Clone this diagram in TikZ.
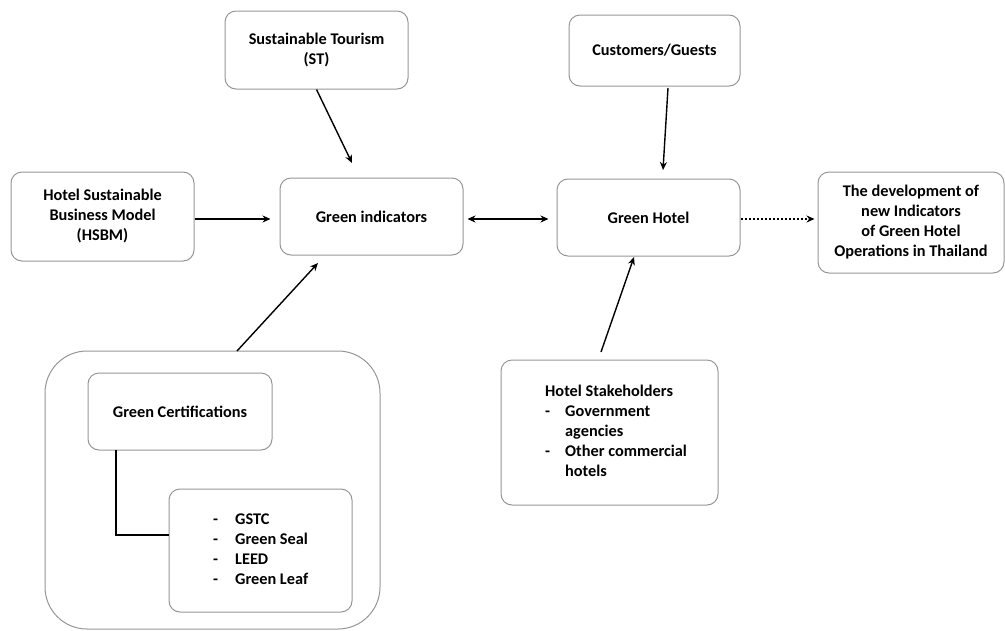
\documentclass[tikz,border=0pt]{standalone}
\usepackage{fontspec}
\setmainfont{Carlito}
\usetikzlibrary{arrows.meta}
\definecolor{boxgray}{RGB}{150,150,150}
\begin{document}
\begin{tikzpicture}[x=1pt,y=-1pt,
  font=\fontsize{16.3}{20}\selectfont\bfseries,
  box/.style={draw=boxgray,line width=1pt,rounded corners=11pt,align=center,inner sep=0pt},
  arr/.style={line width=1.4pt,-{Stealth[length=8pt,width=7pt]}},
  darr/.style={line width=1.4pt,{Stealth[length=8pt,width=7pt]}-{Stealth[length=8pt,width=7pt]}},
  dotarr/.style={line width=1.3pt,dash pattern=on 2.2pt off 1.8pt,-{Stealth[length=8pt,width=7pt]}},
  conn/.style={line width=1.4pt}]
\useasboundingbox (0,0) rectangle (1005,630);
% outer container
\node[box,rounded corners=42pt,minimum width=335pt,minimum height=278pt] (outer) at (212.5,490) {};
% boxes
\node[box,minimum width=183pt,minimum height=78pt] (st) at (316.5,50) {Sustainable Tourism\\(ST)};
\node[box,minimum width=183pt,minimum height=89pt] (hsbm) at (102.5,216.5) {Hotel Sustainable\\Business Model\\(HSBM)};
\node[box,minimum width=183pt,minimum height=77pt] (gi) at (371.5,216.5) {Green indicators};
\node[box,minimum width=171pt,minimum height=71pt] (cg) at (654.5,50.5) {Customers/Guests};
\node[box,minimum width=183pt,minimum height=77pt] (gh) at (648.5,217.5) {Green Hotel};
\node[box,minimum width=186pt,minimum height=101pt] (dev) at (911,222.5) {The development of\\new Indicators\\of Green Hotel\\Operations in Thailand};
\node[box,minimum width=184pt,minimum height=77pt] (gc) at (180,411.5) {Green Certifications};
\node[box,minimum width=183pt,minimum height=123pt] (list) at (260.5,550.5) {};
\node[anchor=west,inner sep=0pt,align=left] (listtext) at (213,550.5) {\begin{tabular}{@{}l@{\hspace{17pt}}l@{}}-&GSTC\\-&Green Seal\\-&LEED\\-&Green Leaf\end{tabular}};
\node[box,minimum width=217pt,minimum height=145pt] (hs) at (609.5,432.5) {};
\node[anchor=west,inner sep=0pt,align=left] (hstext) at (545,432.5) {\begin{tabular}{@{}l@{\hspace{15pt}}l@{}}\multicolumn{2}{@{}l@{}}{Hotel Stakeholders}\\-&Government\\&agencies\\-&Other commercial\\&hotels\end{tabular}};
% connector end points
\coordinate (stend) at (352,163);
\coordinate (cgstart) at (668,88);
\coordinate (cgend) at (663,170);
\coordinate (outstart) at (237,351);
\coordinate (outend) at (318,263);
\coordinate (hsstart) at (601,352);
\coordinate (hsend) at (634,257);
\coordinate (gcstart) at (116,450);
\coordinate (listjoin) at (169,535);
% connectors
\draw[arr] (st.south) -- (stend);
\draw[arr,shorten >=9pt] ([yshift=-2.5pt]hsbm.east) -- ([yshift=-2.5pt]gi.west);
\draw[darr,shorten <=4pt,shorten >=8pt] ([yshift=-2.5pt]gi.east) -- ([yshift=-1.5pt]gh.west);
\draw[arr] (cgstart) -- (cgend);
\draw[dotarr,shorten >=3pt] ([yshift=-1.5pt]gh.east) -- ([yshift=3.5pt]dev.west);
\draw[arr] (outstart) -- (outend);
\draw[arr] (hsstart) -- (hsend);
\draw[conn] (gcstart) |- (listjoin);
\end{tikzpicture}
\end{document}
